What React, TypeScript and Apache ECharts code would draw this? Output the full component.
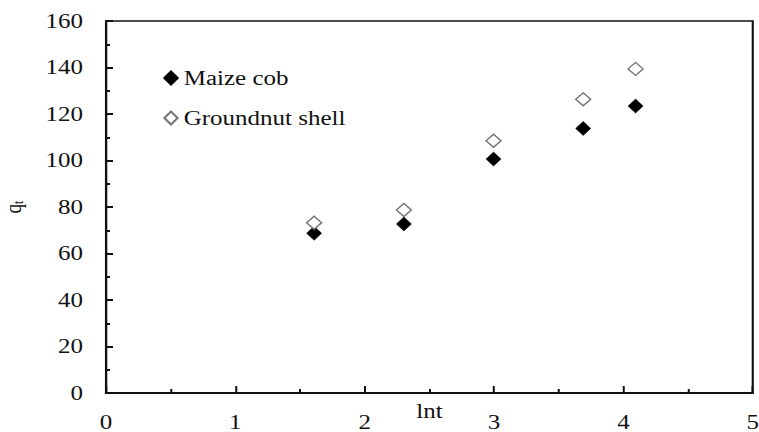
import React, { useEffect, useRef } from "react";
import * as echarts from "echarts";

// Adsorption capacity q_t against ln t for the two biosorbents
const lnT = [1.609, 2.303, 2.996, 3.689, 4.094];
const maizeCob = [68.7, 72.7, 100.6, 113.8, 123.4];
const groundnutShell = [73.2, 78.7, 108.5, 126.3, 139.4];
const seriesNames = ["Maize cob", "Groundnut shell"];

// The whole figure is drawn narrow and widened with a horizontal scale,
// giving the broad serif lettering of the printed figure.
const SX = 1.25;
const PAGE_W = 759;
const PAGE_H = 432;
const FONT = "'Liberation Serif', 'Times New Roman', serif";

export default function App() {
  const ref = useRef<HTMLDivElement>(null);

  useEffect(() => {
    if (!ref.current) return;
    const chart = echarts.init(ref.current, undefined, { renderer: "svg" });
    const ink = "#111";
    chart.setOption({
      animation: false,
      backgroundColor: "#fff",
      textStyle: { fontFamily: FONT, color: ink },
      grid: {
        left: 106 / SX,
        right: 6 / SX,
        top: 21,
        bottom: 39,
        outerBoundsMode: "none",
        containLabel: false,
        show: true,
        borderColor: ink,
        borderWidth: 1.7,
      },
      legend: {
        orient: "vertical",
        left: 157 / SX,
        top: 62,
        itemWidth: 13 / SX,
        itemHeight: 13,
        itemGap: 18,
        textStyle: { fontFamily: FONT, fontSize: 20, color: ink, lineHeight: 22 },
        data: seriesNames,
      },
      xAxis: {
        type: "value",
        min: 0,
        max: 5,
        interval: 1,
        name: "lnt",
        nameLocation: "middle",
        nameGap: 8,
        nameMoveOverlap: false,
        nameTextStyle: { fontFamily: FONT, fontSize: 20, color: ink, verticalAlign: "top" },
        axisLine: { show: true, lineStyle: { color: ink, width: 2 } },
        axisTick: { show: true, inside: true, length: 7, lineStyle: { color: ink, width: 2 / SX } },
        minorTick: { show: true, splitNumber: 2, length: 4, lineStyle: { color: ink, width: 2 / SX } },
        axisLabel: { fontFamily: FONT, fontSize: 20, color: ink, margin: 19 },
        splitLine: { show: false },
      },
      yAxis: {
        type: "value",
        min: 0,
        max: 160,
        interval: 20,
        name: "{q|q}{t|t}",
        nameLocation: "middle",
        nameRotate: 90,
        nameGap: 64,
        nameTextStyle: {
          fontFamily: FONT,
          color: ink,
          rich: {
            q: { fontFamily: FONT, fontSize: 19, color: ink, verticalAlign: "top", lineHeight: 20 },
            t: { fontFamily: FONT, fontSize: 12, color: ink, verticalAlign: "bottom", lineHeight: 20 },
          },
        },
        axisLine: { show: true, lineStyle: { color: ink, width: 2 / SX } },
        axisTick: { show: true, inside: true, length: 7 / SX, lineStyle: { color: ink, width: 2 } },
        minorTick: { show: true, splitNumber: 2, length: 4 / SX, lineStyle: { color: ink, width: 2 } },
        axisLabel: { fontFamily: FONT, fontSize: 20, color: ink, margin: 23 / SX },
        splitLine: { show: false },
      },
      series: [
        {
          name: seriesNames[0],
          type: "scatter",
          symbol: "diamond",
          symbolSize: [15 / SX, 14],
          itemStyle: { color: "#000", borderColor: "#000", borderWidth: 0.5, opacity: 1 },
          data: lnT.map((x, i) => [x, maizeCob[i]]),
        },
        {
          name: seriesNames[1],
          type: "scatter",
          symbol: "diamond",
          symbolSize: [15 / SX, 13],
          itemStyle: { color: "#fff", borderColor: "#777", borderWidth: 1.3, opacity: 1 },
          data: lnT.map((x, i) => [x, groundnutShell[i]]),
        },
      ],
    });
    return () => chart.dispose();
  }, []);

  return (
    <div
      style={{
        position: "fixed",
        left: 0,
        top: 0,
        width: PAGE_W,
        height: PAGE_H,
        overflow: "hidden",
        background: "#fff",
      }}
    >
      <div
        ref={ref}
        style={{
          width: PAGE_W / SX,
          height: PAGE_H,
          transform: `scaleX(${SX})`,
          transformOrigin: "0 0",
        }}
      />
    </div>
  );
}
